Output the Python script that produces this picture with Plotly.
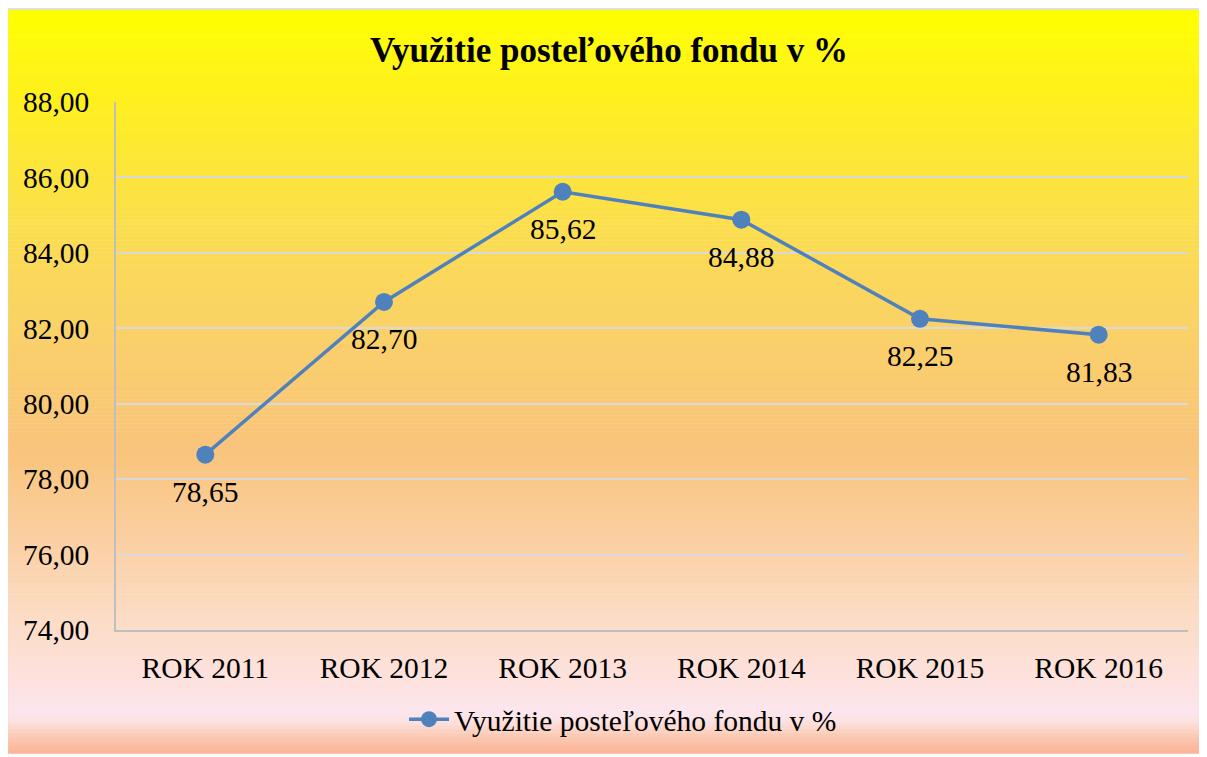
import plotly.graph_objects as go

categories = ["ROK 2011", "ROK 2012", "ROK 2013", "ROK 2014", "ROK 2015", "ROK 2016"]
values = [78.65, 82.70, 85.62, 84.88, 82.25, 81.83]
series_name = "Využitie posteľového fondu v %"
title_text = "Využitie posteľového fondu v %"
y_ticks = [74, 76, 78, 80, 82, 84, 86, 88]

FONT = "Liberation Serif, Times New Roman, DejaVu Serif, serif"
FS = 29.5

# page body has an 8px margin; reference pixel coords are shifted by OFF
OFF = 8
W, H = 1207 - OFF, 757 - OFF
L, R, T, B = 116 - OFF, 1188 - OFF, 102 - OFF, 633 - OFF
PW, PH = R - L, B - T


def px_x(px):
    return (px - OFF - L) / PW


def px_y(py):
    return (B - (py - OFF)) / PH


stops = [
    (9, (255, 255, 0)),
    (100, (254, 240, 30)),
    (150, (253, 232, 52)),
    (250, (251, 219, 85)),
    (350, (250, 207, 108)),
    (450, (249, 196, 123)),
    (550, (251, 208, 165)),
    (620, (252, 220, 197)),
    (690, (253, 226, 224)),
    (716, (252, 230, 238)),
    (726, (252, 225, 222)),
    (740, (251, 201, 178)),
    (757, (251, 178, 150)),
]


def color_at(py):
    for (y0, c0), (y1, c1) in zip(stops[:-1], stops[1:]):
        if y0 <= py <= y1:
            t = (py - y0) / (y1 - y0) if y1 > y0 else 0
            return "rgb(%d,%d,%d)" % tuple(round(a + (b - a) * t) for a, b in zip(c0, c1))
    return "rgb(%d,%d,%d)" % stops[-1][1]


shapes = []
step = 4
py = 9
while py < 757:
    y_top = py
    y_bot = min(py + step, 757)
    shapes.append(dict(
        type="rect", xref="paper", yref="paper", layer="below",
        x0=px_x(8), x1=px_x(1210), y0=px_y(y_bot + 0.5), y1=px_y(y_top),
        fillcolor=color_at((y_top + y_bot) / 2), line=dict(width=0),
    ))
    py += step

shapes.append(dict(
    type="rect", xref="paper", yref="paper", layer="above",
    x0=px_x(7.5), x1=px_x(1212), y0=px_y(765), y1=px_y(8.5),
    fillcolor="rgba(0,0,0,0)", line=dict(color="#d9d9d9", width=1.5),
))

fig = go.Figure()
fig.add_trace(go.Scatter(
    x=categories, y=values, name=series_name,
    mode="lines+markers",
    line=dict(color="#4F81BD", width=3.5),
    marker=dict(color="#4F81BD", size=18),
    cliponaxis=False,
))

annotations = []
for c, v in zip(categories, values):
    annotations.append(dict(
        x=c, y=v, xref="x", yref="y", text=("%.2f" % v).replace(".", ","),
        showarrow=False, yshift=-37, xanchor="center", yanchor="middle",
        font=dict(family=FONT, size=FS, color="black"),
    ))

fig.update_layout(
    width=W, height=H,
    margin=dict(l=L, r=W - R, t=T, b=H - B),
    paper_bgcolor="white", plot_bgcolor="rgba(0,0,0,0)",
    separators=", ",
    font=dict(family=FONT, size=FS, color="black"),
    title=dict(text="<b>" + title_text + "</b>", x=(609 - OFF) / W, xref="container", xanchor="center",
               y=1 - (50 - OFF) / H, yref="container", yanchor="middle",
               font=dict(family=FONT, size=35, color="black")),
    showlegend=True,
    legend=dict(orientation="h", x=px_x(404), xanchor="left", y=px_y(723), yanchor="middle",
                bgcolor="rgba(0,0,0,0)", font=dict(family=FONT, size=FS), itemwidth=40),
    shapes=shapes,
    annotations=annotations,
)
fig.update_xaxes(type="category", range=[-0.5, 5.5], showgrid=False,
                 showline=True, linecolor="#bfbfbf", linewidth=1.5,
                 ticks="", ticklabelstandoff=11, tickfont=dict(family=FONT, size=FS))
fig.update_yaxes(range=[74, 88], tickvals=y_ticks, tickformat=".2f",
                 showgrid=True, gridcolor="#d9d9d9", gridwidth=2,
                 showline=True, linecolor="#bfbfbf", linewidth=1.5,
                 zeroline=False, ticks="", ticklabelstandoff=19, tickfont=dict(family=FONT, size=FS))

fig.write_html("out.html")
